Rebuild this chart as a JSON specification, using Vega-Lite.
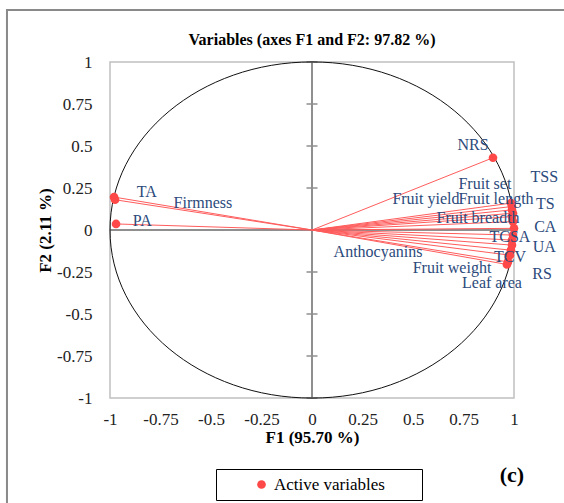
{
  "$schema": "https://vega.github.io/schema/vega-lite/v6.json",
  "width": 404,
  "height": 336,
  "autosize": {"type": "none"},
  "padding": {"left": 110, "top": 62, "right": 50, "bottom": 105},
  "background": "white",
  "title": {"text": "Variables (axes F1 and F2: 97.82 %)", "font": "Liberation Serif", "fontSize": 16, "fontWeight": "bold", "color": "black", "anchor": "middle", "frame": "group", "offset": -39},
  "config": {
    "view": {"stroke": "#c0c0c0", "strokeWidth": 1.5},
    "axis": {"labelFont": "Liberation Serif", "labelFontSize": 17, "labelColor": "#222222", "titleFont": "Liberation Serif", "titleFontSize": 17, "titleFontWeight": "bold", "titleColor": "black"}
  },
  "datasets": {
    "vars": [
      {"label": "NRS", "x": 0.896, "y": 0.43, "lx": 0.797, "ly": 0.506, "type": "Active variables"},
      {"label": "TSS", "x": 0.99, "y": 0.12, "lx": 1.15, "ly": 0.315, "type": "Active variables"},
      {"label": "Fruit set", "x": 0.985, "y": 0.16, "lx": 0.856, "ly": 0.274, "type": "Active variables"},
      {"label": "Fruit yield", "x": 0.99, "y": 0.08, "lx": 0.564, "ly": 0.185, "type": "Active variables"},
      {"label": "Fruit length", "x": 0.99, "y": 0.14, "lx": 0.911, "ly": 0.185, "type": "Active variables"},
      {"label": "TS", "x": 0.995, "y": 0.1, "lx": 1.155, "ly": 0.152, "type": "Active variables"},
      {"label": "Fruit breadth", "x": 0.995, "y": 0.05, "lx": 0.822, "ly": 0.071, "type": "Active variables"},
      {"label": "CA", "x": 1.0, "y": 0.01, "lx": 1.155, "ly": 0.015, "type": "Active variables"},
      {"label": "TCSA", "x": 0.995, "y": -0.03, "lx": 0.98, "ly": -0.042, "type": "Active variables"},
      {"label": "UA", "x": 0.99, "y": -0.06, "lx": 1.15, "ly": -0.101, "type": "Active variables"},
      {"label": "Anthocyanins", "x": 0.985, "y": -0.12, "lx": 0.327, "ly": -0.131, "type": "Active variables"},
      {"label": "TCV", "x": 0.99, "y": -0.09, "lx": 0.98, "ly": -0.161, "type": "Active variables"},
      {"label": "Fruit weight", "x": 0.97, "y": -0.19, "lx": 0.693, "ly": -0.226, "type": "Active variables"},
      {"label": "RS", "x": 0.98, "y": -0.15, "lx": 1.139, "ly": -0.262, "type": "Active variables"},
      {"label": "Leaf area", "x": 0.965, "y": -0.205, "lx": 0.891, "ly": -0.315, "type": "Active variables"},
      {"label": "TA", "x": -0.98, "y": 0.196, "lx": -0.818, "ly": 0.226, "type": "Active variables"},
      {"label": "Firmness", "x": -0.975, "y": 0.18, "lx": -0.54, "ly": 0.161, "type": "Active variables"},
      {"label": "PA", "x": -0.97, "y": 0.036, "lx": -0.84, "ly": 0.055, "type": "Active variables"}
    ],
    "ticks": [{"v": -1}, {"v": -0.75}, {"v": -0.5}, {"v": -0.25}, {"v": 0}, {"v": 0.25}, {"v": 0.5}, {"v": 0.75}, {"v": 1}],
    "frame": [{"x": -1.51, "x2": 2.5, "y": 1.31, "y2": -2}],
    "note": [{"lx": 0.99, "ly": -1.46, "label": "(c)"}]
  },
  "layer": [
    {
      "data": {"name": "frame"},
      "mark": {"type": "rect", "fill": "white", "fillOpacity": 0, "stroke": "#8a8a8a", "strokeWidth": 2, "clip": false},
      "encoding": {
        "x": {"field": "x", "type": "quantitative", "scale": {"domain": [-1, 1], "nice": false, "zero": false},
          "axis": {"title": "F1 (95.70 %)", "values": [-1, -0.75, -0.5, -0.25, 0, 0.25, 0.5, 0.75, 1], "labelExpr": "'' + datum.value", "domain": false, "ticks": false, "grid": false, "labelFont": "Liberation Serif", "labelFontSize": 17, "labelColor": "#222222", "labelPadding": 13, "titleFont": "Liberation Serif", "titleFontSize": 17, "titleFontWeight": "bold", "titleColor": "black", "titlePadding": 2, "labelFlush": false, "labelOverlap": false}},
        "x2": {"field": "x2"},
        "y": {"field": "y", "type": "quantitative", "scale": {"domain": [-1, 1], "nice": false, "zero": false},
          "axis": {"title": "F2 (2.11 %)", "values": [-1, -0.75, -0.5, -0.25, 0, 0.25, 0.5, 0.75, 1], "labelExpr": "'' + datum.value", "domain": false, "ticks": false, "grid": false, "labelFont": "Liberation Serif", "labelFontSize": 17, "labelColor": "#222222", "labelPadding": 18, "titleFont": "Liberation Serif", "titleFontSize": 17, "titleFontWeight": "bold", "titleColor": "black", "titlePadding": 2, "labelFlush": false, "labelOverlap": false}},
        "y2": {"field": "y2"}
      }
    },
    {
      "data": {"name": "ticks"},
      "mark": {"type": "rule", "color": "#8f8f8f", "strokeWidth": 1.5},
      "encoding": {"x": {"datum": 0, "type": "quantitative"}}
    },
    {
      "data": {"name": "ticks"},
      "mark": {"type": "rule", "color": "#8f8f8f", "strokeWidth": 1.5},
      "encoding": {"y": {"datum": 0, "type": "quantitative"}}
    },
    {
      "data": {"name": "ticks"},
      "mark": {"type": "tick", "orient": "horizontal", "size": 11, "thickness": 1.5, "color": "#8f8f8f", "opacity": 1},
      "encoding": {"x": {"datum": 0, "type": "quantitative"}, "y": {"field": "v", "type": "quantitative"}}
    },
    {
      "data": {"values": [{"cx": 0, "cy": 0}]},
      "mark": {"type": "point", "shape": "M-1,0A1,0.832,0,1,1,1,0A1,0.832,0,1,1,-1,0Z", "size": 163216, "filled": false, "stroke": "#111111", "strokeWidth": 1, "opacity": 1},
      "encoding": {"x": {"field": "cx", "type": "quantitative"}, "y": {"field": "cy", "type": "quantitative"}}
    },
    {
      "data": {"name": "vars"},
      "mark": {"type": "rule", "color": "#ff5c5c", "strokeWidth": 1},
      "encoding": {
        "x": {"field": "x", "type": "quantitative"},
        "y": {"field": "y", "type": "quantitative"},
        "x2": {"datum": 0},
        "y2": {"datum": 0}
      }
    },
    {
      "data": {"name": "vars"},
      "mark": {"type": "circle", "size": 75, "opacity": 1},
      "encoding": {
        "x": {"field": "x", "type": "quantitative"},
        "y": {"field": "y", "type": "quantitative"},
        "color": {"field": "type", "type": "nominal", "scale": {"range": ["#ff4848"]},
          "legend": {"orient": "none", "legendX": 106, "legendY": 407, "direction": "vertical", "title": " ", "titleOrient": "right", "titlePadding": 30, "titleFontSize": 11, "strokeColor": "black", "fillColor": "white", "padding": 7, "symbolType": "circle", "symbolSize": 75, "symbolOffset": 30, "labelOffset": 4, "labelFont": "Liberation Serif", "labelFontSize": 17, "labelColor": "black"}}
      }
    },
    {
      "data": {"name": "vars"},
      "mark": {"type": "text", "font": "Liberation Serif", "fontSize": 16, "color": "#2b4a7b", "align": "center", "baseline": "middle"},
      "encoding": {
        "x": {"field": "lx", "type": "quantitative"},
        "y": {"field": "ly", "type": "quantitative"},
        "text": {"field": "label"}
      }
    },
    {
      "data": {"name": "note"},
      "mark": {"type": "text", "font": "Liberation Serif", "fontSize": 22, "fontWeight": "bold", "color": "black", "align": "center", "baseline": "middle"},
      "encoding": {
        "x": {"field": "lx", "type": "quantitative"},
        "y": {"field": "ly", "type": "quantitative"},
        "text": {"field": "label"}
      }
    }
  ]
}
